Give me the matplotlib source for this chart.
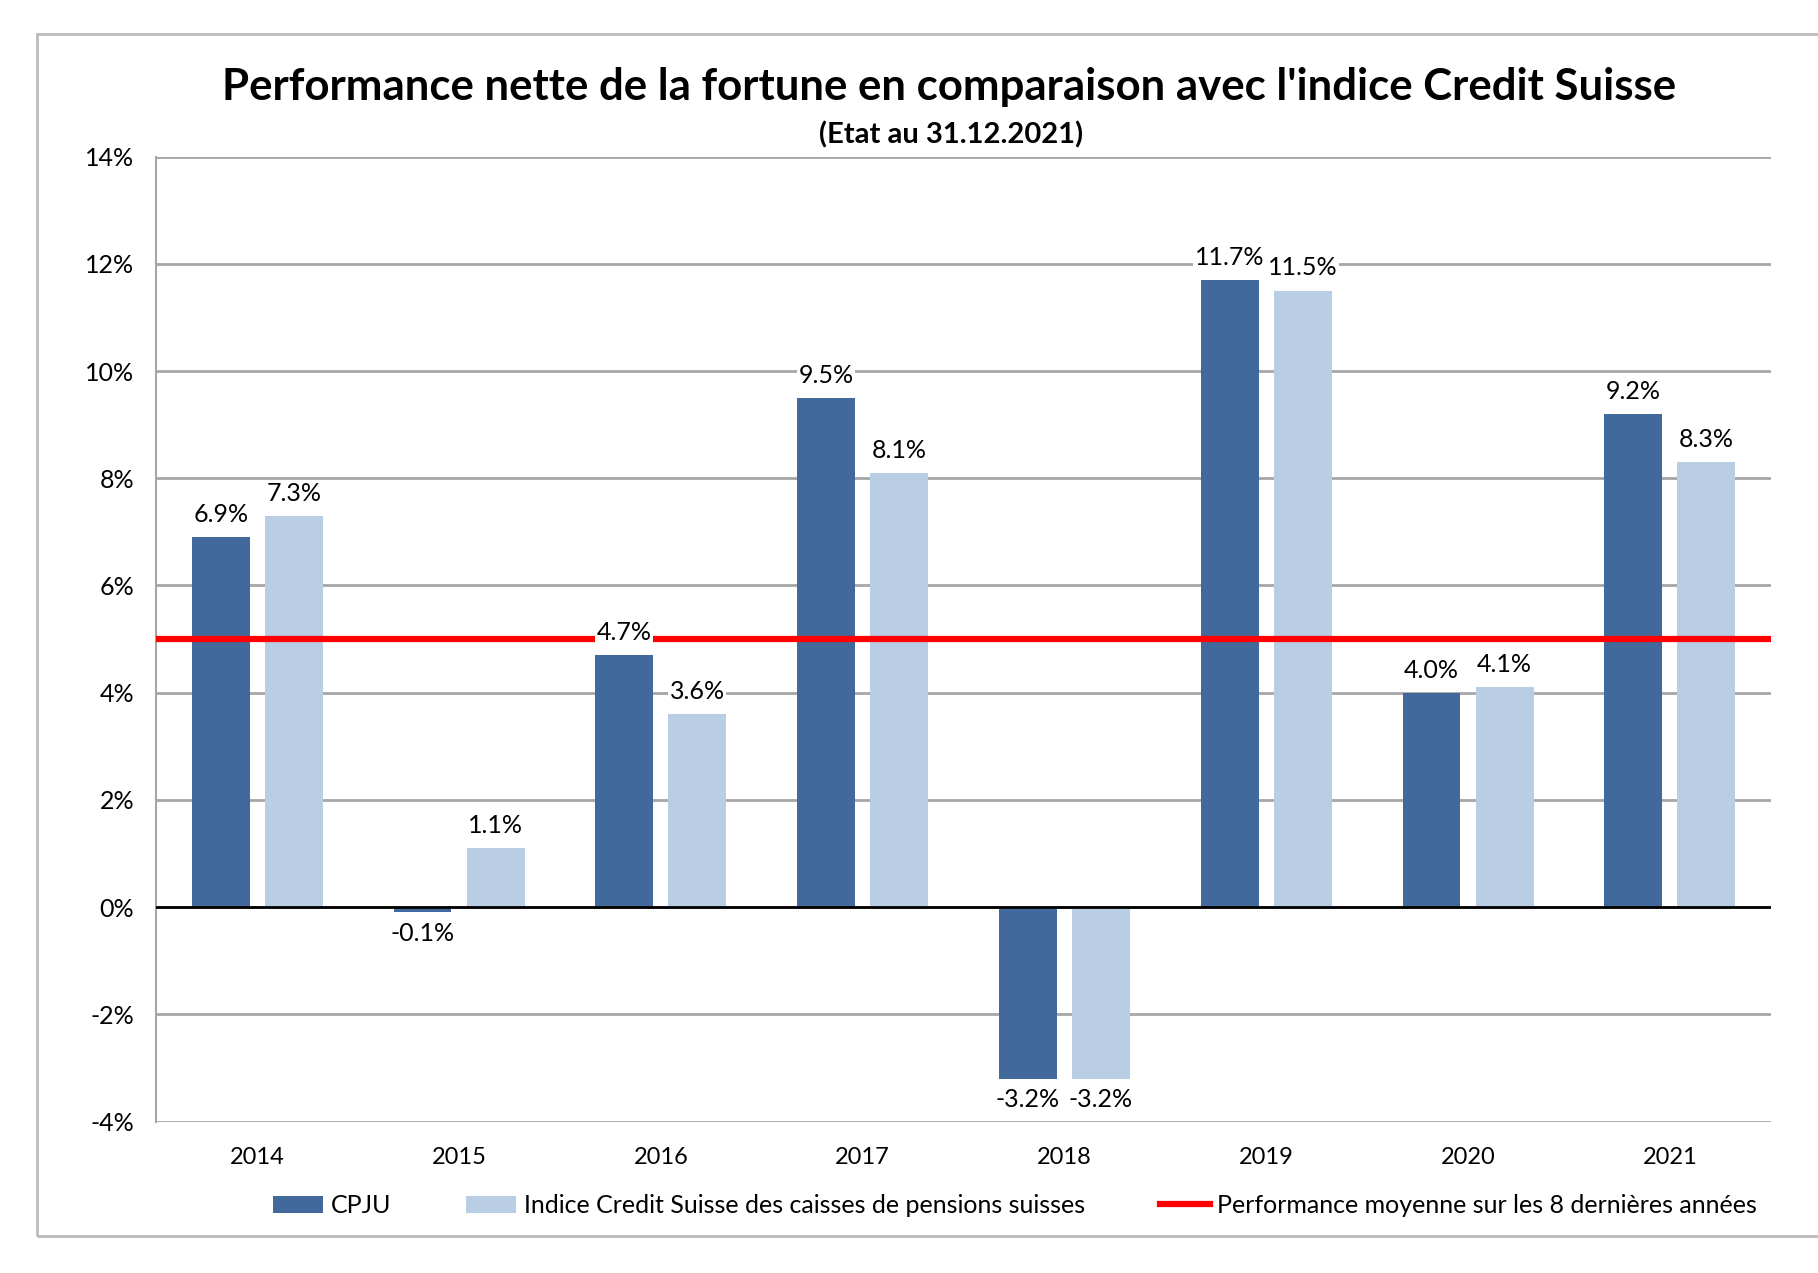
import numpy as np
import matplotlib.pyplot as plt
from matplotlib.patches import Rectangle

years = ["2014", "2015", "2016", "2017", "2018", "2019", "2020", "2021"]
cpju = [6.9, -0.1, 4.7, 9.5, -3.2, 11.7, 4.0, 9.2]
indice = [7.3, 1.1, 3.6, 8.1, -3.2, 11.5, 4.1, 8.3]
moyenne = 5.0

dark = "#41699B"
light = "#B9CDE5"

plt.rcParams['font.family'] = ['Lato', 'DejaVu Sans']

fig = plt.figure(figsize=(18.18, 12.73), dpi=100)
ax = fig.add_axes([0.086, 0.119, 0.888, 0.758])

# outer frame
fig.patches.append(Rectangle((0.0204, 0.029), 1.1, 0.944, transform=fig.transFigure,
                             fill=False, edgecolor="#BBBBBB", linewidth=2, zorder=0))

x = np.arange(len(years))
off = 0.181
w = 0.287
b1 = ax.bar(x - off, cpju, w, color=dark, label="CPJU", zorder=3)
b2 = ax.bar(x + off, indice, w, color=light,
            label="Indice Credit Suisse des caisses de pensions suisses", zorder=3)
ln = ax.axhline(moyenne, color="#FF0000", linewidth=4.5, zorder=4,
                label="Performance moyenne sur les 8 dernières années")
ax.axhline(0, color="black", linewidth=2, zorder=4)

for bars, vals in ((b1, cpju), (b2, indice)):
    for b, v in zip(bars, vals):
        cx = b.get_x() + b.get_width() / 2
        if v >= 0:
            ax.annotate(f"{v:.1f}%", (cx, v), xytext=(0, 8), textcoords="offset points",
                        ha="center", va="bottom", fontsize=18, zorder=5,
                        bbox=dict(facecolor="white", edgecolor="none", pad=1))
        else:
            ax.annotate(f"{v:.1f}%", (cx, v), xytext=(0, -7), textcoords="offset points",
                        ha="center", va="top", fontsize=18, zorder=5,
                        bbox=dict(facecolor="white", edgecolor="none", pad=1))

ax.set_xlim(-0.5, len(years) - 0.5)
ax.set_ylim(-4, 14)
ax.set_yticks(range(-4, 15, 2))
ax.set_yticklabels([f"{t}%" for t in range(-4, 15, 2)], fontsize=18)
ax.set_xticks(x)
ax.set_xticklabels(years, fontsize=17)
ax.tick_params(axis="y", length=0, pad=16)
ax.tick_params(axis="x", length=0, pad=18)
ax.grid(axis="y", color="#A6A6A6", linewidth=2, zorder=0)
ax.set_axisbelow(True)
for s in ("top", "right", "bottom"):
    ax.spines[s].set_visible(False)
ax.spines["left"].set_color("#A6A6A6")
ax.spines["left"].set_linewidth(1.5)

fig.text(0.522, 0.932, "Performance nette de la fortune en comparaison avec l'indice Credit Suisse",
         ha="center", va="center", fontsize=31.5, fontweight="bold")
fig.text(0.523, 0.894, "(Etat au 31.12.2021)", ha="center", va="center",
         fontsize=21, fontweight="bold")

ax.legend([b1, b2, ln], [b1.get_label(), b2.get_label(), ln.get_label()],
          loc="upper center", bbox_to_anchor=(0.532, -0.052), ncol=3, frameon=False,
          fontsize=18, handlelength=2.0, columnspacing=3, handletextpad=0.3)

fig.savefig("out.png", dpi=100)
